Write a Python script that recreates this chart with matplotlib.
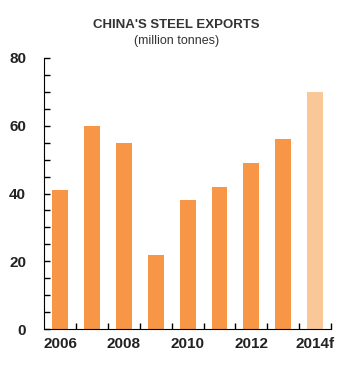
import matplotlib.pyplot as plt
import numpy as np

plt.rcParams['font.family'] = ['Liberation Sans', 'DejaVu Sans']

years = ['2006', '2007', '2008', '2009', '2010', '2011', '2012', '2013', '2014f']
exports = [41, 60, 55, 22, 38, 42, 49, 56, 70]
colors = ['#F79646'] * 8 + ['#FAC898']

fig = plt.figure(figsize=(3.53, 3.74), dpi=100)
ax = fig.add_axes([0.125, 0.12, 0.813, 0.725])

x = np.arange(len(years))
ax.bar(x, exports, width=0.5, color=colors)

ax.set_xlim(-0.5, 8.5)
ax.set_ylim(0, 80)

ax.spines['top'].set_visible(False)
ax.spines['right'].set_visible(False)

ax.set_yticks([0, 20, 40, 60, 80])
ax.set_yticks(np.arange(0, 81, 5), minor=True)
ax.tick_params(axis='y', which='both', direction='in', length=4, width=1, pad=13)

ax.set_xticks(x[::2])
ax.set_xticklabels(years[::2])
ax.set_xticks(np.arange(0.5, 8.6, 1), minor=True)
ax.tick_params(axis='x', which='major', length=0, pad=6)
ax.tick_params(axis='x', which='minor', direction='in', length=4, width=1)

for lab in ax.get_xticklabels() + ax.get_yticklabels():
    lab.set_fontweight('bold')
    lab.set_fontsize(11)
    lab.set_color('#222222')

fig.text(0.5, 0.925, "CHINA'S STEEL EXPORTS", ha='center', fontsize=9.5,
         fontweight='bold', color='#333333')
fig.text(0.5, 0.882, "(million tonnes)", ha='center', fontsize=9, color='#333333')

plt.savefig('out.png')
